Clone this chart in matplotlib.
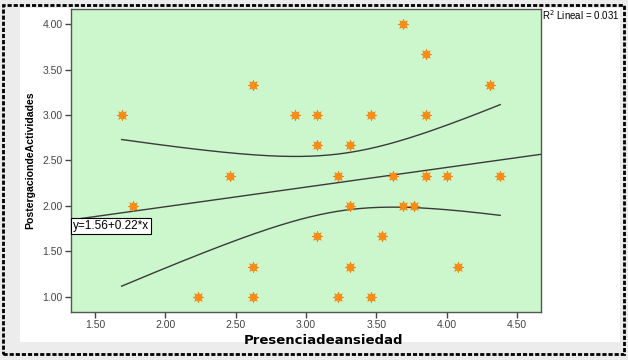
import numpy as np
import matplotlib
matplotlib.use('Agg')
import matplotlib.pyplot as plt
from matplotlib.patches import Rectangle

# datos
ansiedad = [1.69, 1.77, 2.23, 2.46, 2.62, 2.62, 2.62, 2.92, 3.08, 3.08,
            3.08, 3.23, 3.23, 3.31, 3.31, 3.31, 3.46, 3.46, 3.54, 3.62,
            3.69, 3.69, 3.77, 3.85, 3.85, 3.85, 4.00, 4.08, 4.31, 4.38]
postergacion = [3.00, 2.00, 1.00, 2.33, 3.33, 1.33, 1.00, 3.00, 3.00, 2.67,
                1.67, 2.33, 1.00, 2.67, 2.00, 1.33, 3.00, 1.00, 1.67, 2.33,
                4.00, 2.00, 2.00, 3.67, 3.00, 2.33, 2.33, 1.33, 3.33, 2.33]
xticks = [1.5, 2.0, 2.5, 3.0, 3.5, 4.0, 4.5]
yticks = [1.0, 1.5, 2.0, 2.5, 3.0, 3.5, 4.0]
ecuacion = 'y=1.56+0.22*x'
r2_texto = 'R$^2$ Lineal = 0.031'

x = np.array(ansiedad)
y = np.array(postergacion)
n = len(x)

# ajuste lineal + intervalo de confianza 95% de la media
b1, b0 = np.polyfit(x, y, 1)
res = y - (b0 + b1 * x)
s = np.sqrt(np.sum(res ** 2) / (n - 2))
sxx = np.sum((x - x.mean()) ** 2)
t95 = 2.048  # t(0.975, 28)
xs = np.linspace(x.min(), x.max(), 200)
se = s * np.sqrt(1 / n + (xs - x.mean()) ** 2 / sxx)

plt.rcParams['font.family'] = ['Liberation Sans', 'DejaVu Sans']

fig = plt.figure(figsize=(6.28, 3.60), dpi=100)
fig.patch.set_facecolor('#ececec')

# panel blanco y borde exterior
fig.patches.append(Rectangle((20 / 628, 18 / 360), 600 / 628, 334 / 360,
                             transform=fig.transFigure, facecolor='white',
                             edgecolor='none', zorder=-5))
fig.patches.append(Rectangle((3 / 628, 6 / 360), 621 / 628, 349 / 360,
                             transform=fig.transFigure, facecolor='none',
                             edgecolor='black', linewidth=2,
                             linestyle=(0, (1.5, 0.7)), zorder=5))

ax = fig.add_axes([71 / 628, 48 / 360, 470 / 628, 303 / 360])
ax.set_facecolor('#ccf7cc')
ax.set_xlim(1.33, 4.67)
ax.set_ylim(0.835, 4.165)

xl = np.array(ax.get_xlim())
ax.plot(xl, b0 + b1 * xl, color='#3a3a3a', lw=1)
ax.plot(xs, b0 + b1 * xs + t95 * se, color='#3a3a3a', lw=1)
ax.plot(xs, b0 + b1 * xs - t95 * se, color='#3a3a3a', lw=1)

ax.scatter(x, y, marker=(8, 1, 0), s=60, color='#ff8c14',
           edgecolors='#f07a00', linewidths=0.4, zorder=3)

ax.set_xticks(xticks)
ax.set_yticks(yticks)
ax.set_xticklabels(['%.2f' % v for v in xticks])
ax.set_yticklabels(['%.2f' % v for v in yticks])
ax.tick_params(direction='out', length=4, width=1, labelsize=7.5,
               colors='#444444', pad=2)
for sp in ax.spines.values():
    sp.set_color('#555555')
    sp.set_linewidth(1)

ax.set_xlabel('Presenciadeansiedad', fontsize=9.5, fontweight='bold',
              family=['DejaVu Sans'])
ax.xaxis.set_label_coords(0.538, -0.073)
ax.set_ylabel('PostergaciondeActividades', fontsize=7.6, fontweight='bold',
              family=['Liberation Sans Narrow', 'Liberation Sans'])
ax.yaxis.set_label_coords(-0.077, 0.5)

ax.text(0.004, 0.284, ecuacion, transform=ax.transAxes, fontsize=8.5,
        va='center', ha='left',
        bbox=dict(boxstyle='square,pad=0.2', facecolor='white',
                  edgecolor='black', linewidth=0.8))
fig.text(542 / 628, 1 - 15 / 360, r2_texto, fontsize=7, va='center', ha='left')

fig.savefig('out.png', dpi=100, facecolor=fig.get_facecolor())
